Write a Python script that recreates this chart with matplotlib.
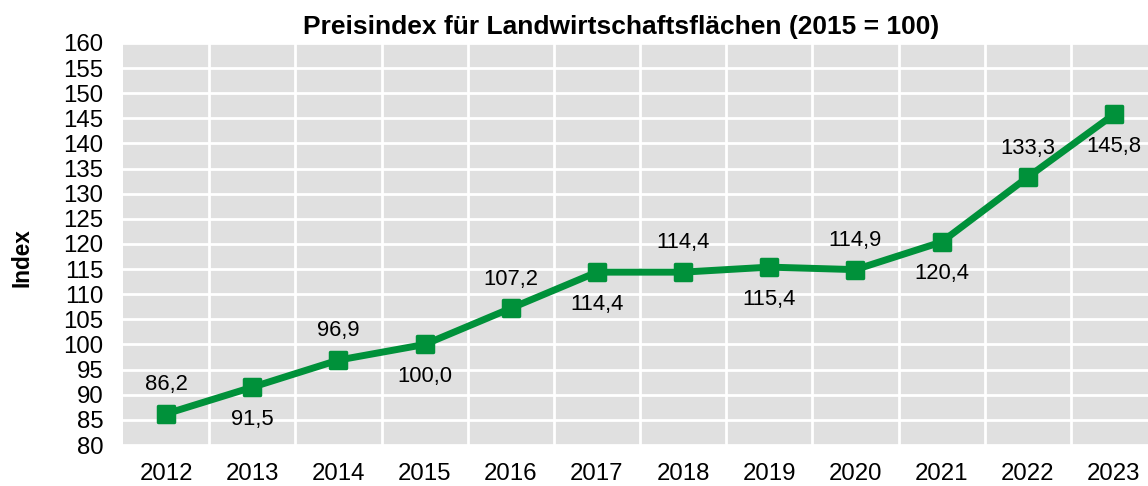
import numpy as np
import matplotlib.pyplot as plt
from matplotlib.markers import MarkerStyle
from matplotlib.ticker import MultipleLocator, FixedLocator

plt.rcParams['font.family'] = ['Liberation Sans', 'DejaVu Sans']

years = ['2012', '2013', '2014', '2015', '2016', '2017',
         '2018', '2019', '2020', '2021', '2022', '2023']
index_values = [86.2, 91.5, 96.9, 100.0, 107.2, 114.4,
                114.4, 115.4, 114.9, 120.4, 133.3, 145.8]

green = '#00913a'

fig = plt.figure(figsize=(11.48, 4.86), dpi=100)
# axes runs slightly past the right edge, like in the original
ax = fig.add_axes([123 / 1148, 1 - 445 / 486, 1034 / 1148, 402 / 486])
ax.set_facecolor('#e0e0e0')

x = np.arange(len(years))
sq = MarkerStyle('s', joinstyle='round')
ax.plot(x, index_values, color=green, lw=5, marker=sq, ms=12, mew=2.5,
        solid_joinstyle='round', zorder=3)

# labels alternate above / below the points
for i, v in enumerate(index_values):
    off = 21 if i % 2 == 0 else -23
    ax.annotate(f'{v:.1f}'.replace('.', ','), (i, v), xytext=(0, off),
                textcoords='offset points', ha='center', va='center',
                fontsize=15.8, color='black')

ax.set_xlim(-0.5, len(years) - 0.5)
ax.set_ylim(80, 160)
ax.set_xticks(x)
ax.set_xticklabels(years)
ax.xaxis.set_minor_locator(FixedLocator(x[:-1] + 0.5))
ax.yaxis.set_major_locator(MultipleLocator(5))

ax.grid(True, which='major', axis='y', color='white', lw=2)
ax.grid(True, which='minor', axis='x', color='white', lw=2)
ax.set_axisbelow(True)
for s in ax.spines.values():
    s.set_visible(False)
ax.tick_params(axis='both', which='both', length=0, labelsize=17.3, labelcolor='black')
ax.tick_params(axis='x', pad=13)
ax.tick_params(axis='y', pad=14)

fig.text(22.5 / 1148, 1 - 258 / 486, 'Index', rotation=90, ha='center', va='center',
         fontsize=16.3, fontweight='bold')
fig.text(621 / 1148, 1 - 27 / 486, 'Preisindex für Landwirtschaftsflächen (2015 = 100)',
         ha='center', va='center', fontsize=19, fontweight='bold')

fig.savefig('out.png', dpi=100)
